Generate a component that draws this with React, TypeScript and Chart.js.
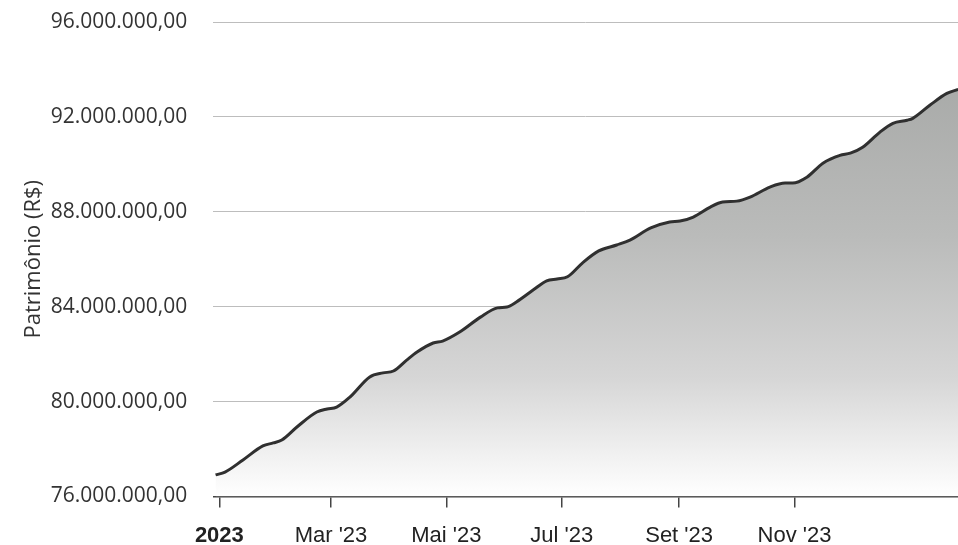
import React, { useEffect, useRef } from "react";
import { Chart, registerables } from "chart.js";

Chart.register(...registerables);

// Days since 1 Jan 2023
const dayOffsets = [
  -2, 3, 12.5, 23, 28.5, 33, 41, 51.5, 57, 62,
  69, 79.5, 86.5, 92, 99, 104.5, 113, 118, 127, 138,
  147, 152, 157, 166, 173, 178.5, 184, 192, 200.5, 210,
  217, 228, 238, 243.5, 250.5, 259.5, 266, 273.5, 280.5, 291,
  299, 303, 310.5, 319, 328, 333.5, 340, 349, 356, 363.5,
  366.5, 375.5, 384.5, 390.5,
];

const patrimonio = [
  76910000, 77030000, 77540000, 78130000, 78260000, 78380000, 78930000, 79560000, 79690000, 79770000,
  80190000, 81040000, 81210000, 81290000, 81750000, 82090000, 82470000, 82550000, 82930000, 83560000,
  83950000, 83990000, 84200000, 84710000, 85090000, 85170000, 85260000, 85850000, 86350000, 86600000,
  86810000, 87320000, 87570000, 87610000, 87780000, 88200000, 88410000, 88450000, 88620000, 89040000,
  89210000, 89210000, 89460000, 90050000, 90380000, 90470000, 90720000, 91350000, 91730000, 91860000,
  91940000, 92490000, 92990000, 93160000,
];

const tickDays = [0, 59, 120, 181, 243, 304];
const tickLabels = ["2023", "Mar '23", "Mai '23", "Jul '23", "Set '23", "Nov '23"];

const yMin = 76000000;
const yMax = 96000000;
const yStep = 4000000;

function formatBRL(v: number): string {
  const s = Math.round(v).toString().replace(/\B(?=(\d{3})+(?!\d))/g, ".");
  return s + ",00";
}

export default function App() {
  const ref = useRef<HTMLCanvasElement | null>(null);

  useEffect(() => {
    if (!ref.current) return;
    const chart = new Chart(ref.current, {
      type: "line",
      data: {
        datasets: [
          {
            data: dayOffsets.map((d, i) => ({ x: d, y: patrimonio[i] })),
            borderColor: "#303030",
            borderWidth: 3,
            pointRadius: 0,
            cubicInterpolationMode: "monotone",
            fill: "start",
            backgroundColor: (ctx: any) => {
              const { chart } = ctx;
              const area = chart.chartArea;
              if (!area) return "rgba(180,180,180,1)";
              const g = chart.ctx.createLinearGradient(0, area.top, 0, area.bottom);
              g.addColorStop(0, "rgb(162,164,162)");
              g.addColorStop(0.45, "rgb(186,187,186)");
              g.addColorStop(0.75, "rgb(214,214,214)");
              g.addColorStop(1, "rgb(255,255,255)");
              return g;
            },
          },
        ],
      },
      options: {
        animation: false,
        responsive: true,
        maintainAspectRatio: false,
        layout: { padding: { top: 22, left: 0, right: 0, bottom: 0 } },
        plugins: { legend: { display: false }, tooltip: { enabled: false } },
        scales: {
          x: {
            type: "linear",
            min: -3.2,
            max: 390.4,
            afterBuildTicks: (scale: any) => {
              scale.ticks = tickDays.map((v) => ({ value: v }));
            },
            afterFit: (scale: any) => {
              scale.height = 48.5;
            },
            grid: {
              drawOnChartArea: false,
              drawTicks: true,
              tickLength: 11,
              color: "#444",
              lineWidth: 1.5,
            },
            border: { display: true, color: "#444", width: 1.5 },
            ticks: {
              autoSkip: false,
              maxRotation: 0,
              padding: 15,
              color: "#222",
              font: (ctx: any) => ({
                family: "'Liberation Sans', Arial, sans-serif",
                size: 22,
                weight: ctx.index === 0 ? "bold" : "normal",
              }),
              callback: (_v: any, i: number) => tickLabels[i],
            },
          },
          y: {
            min: yMin,
            max: yMax,
            afterFit: (scale: any) => {
              scale.width = 213.3;
              scale.paddingTop = 0;
              scale.paddingBottom = 0;
            },
            grid: { color: "#bdbdbd", lineWidth: 1, drawTicks: false },
            border: { display: false },
            ticks: {
              stepSize: yStep,
              padding: 26,
              color: "#333",
              font: { family: "'Open Sans', sans-serif", size: 21 },
              callback: (v: any) => formatBRL(Number(v)),
            },
            title: {
              display: true,
              text: "Patrimônio (R$)",
              color: "#333",
              font: { family: "'Open Sans', sans-serif", size: 22 },
              padding: { top: 21, bottom: 0 },
            },
          },
        },
      },
    });
    return () => chart.destroy();
  }, []);

  return (
    <div style={{ position: "fixed", left: 0, top: 0, width: 958, height: 545, background: "#fff" }}>
      <canvas ref={ref} />
    </div>
  );
}
